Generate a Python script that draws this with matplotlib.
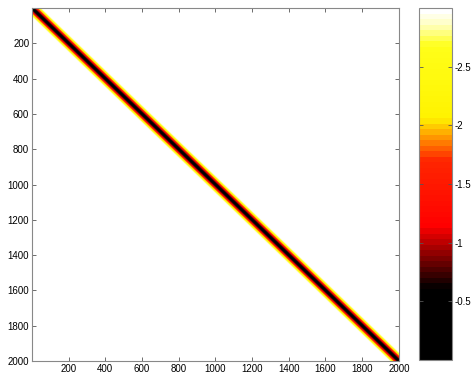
import numpy as np
import matplotlib
matplotlib.use("Agg")
import matplotlib.pyplot as plt
from matplotlib.colors import LinearSegmentedColormap

# matrix size and band profile (value vs. distance from diagonal, in bins of 5)
n_size = 2000
bin_width = 5
band_profile = [-0.2, -0.45, -0.75, -1.05, -1.35, -1.7, -2.05, -2.4, -2.7, -2.9]
background = -3.0

axis_ticks = [200, 400, 600, 800, 1000, 1200, 1400, 1600, 1800, 2000]
cbar_ticks = [-2.5, -2, -1.5, -1, -0.5]
cbar_labels = ["-2.5", "-2", "-1.5", "-1", "-0.5"]

plt.rcParams["font.family"] = ["Liberation Sans", "DejaVu Sans"]
plt.rcParams["axes.unicode_minus"] = False

# hot-like map, white at -3, black at 0
cmap = LinearSegmentedColormap.from_list("hotish", [
    (0.0, (1.0, 1.0, 1.0)),
    (0.04, (1.0, 1.0, 0.75)),
    (0.10, (1.0, 1.0, 0.1)),
    (0.31, (1.0, 0.95, 0.0)),
    (0.43, (1.0, 0.15, 0.0)),
    (0.62, (1.0, 0.0, 0.0)),
    (0.72, (0.45, 0.0, 0.0)),
    (0.80, (0.0, 0.0, 0.0)),
    (1.0, (0.0, 0.0, 0.0)),
], N=64)

idx = np.arange(n_size)
dist = np.abs(idx[:, None] - idx[None, :]) // bin_width
prof = np.array(band_profile)
mat = np.where(dist < len(prof), prof[np.minimum(dist, len(prof) - 1)], background)

fig = plt.figure(figsize=(4.76, 3.81), dpi=100)
ax = fig.add_axes([0.0672, 0.0525, 0.771, 0.926])
cax = fig.add_axes([0.880, 0.055, 0.0693, 0.924])

im = ax.imshow(mat, cmap=cmap, vmin=-3, vmax=0, aspect="auto",
               extent=[0.5, n_size + 0.5, n_size + 0.5, 0.5],
               interpolation="antialiased")
ax.set_xticks(axis_ticks)
ax.set_yticks(axis_ticks)
ax.tick_params(direction="in", top=True, right=True, labelsize=7,
               length=3, width=0.6, color="#555555", pad=2)
for s in ax.spines.values():
    s.set_color("#888888")
    s.set_linewidth(0.8)

cb = fig.colorbar(im, cax=cax)
cax.invert_yaxis()
cb.set_ticks(cbar_ticks)
cb.set_ticklabels(cbar_labels)
cax.tick_params(direction="in", left=True, right=True, labelsize=7,
                length=3, width=0.6, color="#555555", pad=2)
cb.outline.set_edgecolor("#888888")
cb.outline.set_linewidth(0.8)

fig.savefig("out.png", dpi=100)
